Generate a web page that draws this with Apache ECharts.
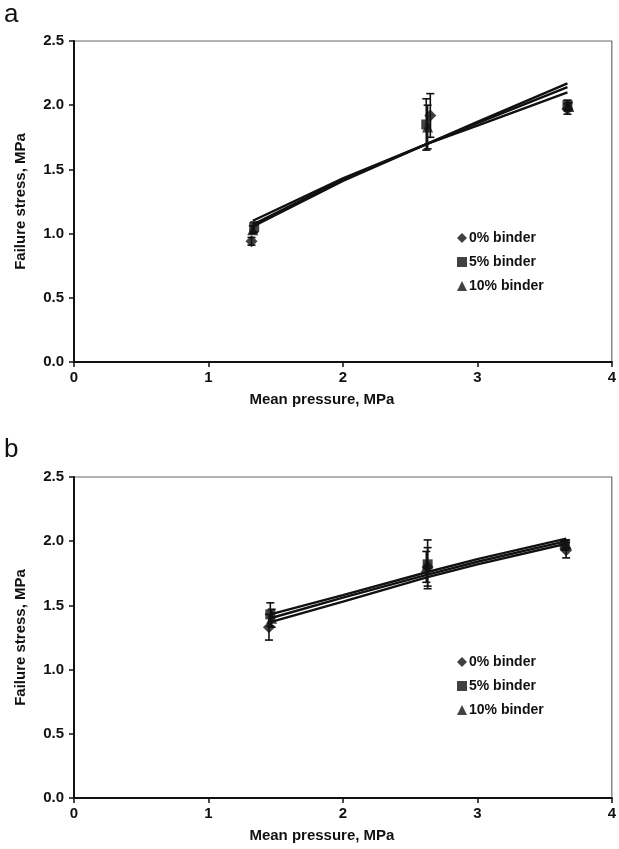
<!DOCTYPE html>
<html><head><meta charset="utf-8">
<script src="https://cdn.jsdelivr.net/npm/echarts@6/dist/echarts.min.js"></script>
<style>html,body{margin:0;padding:0;background:#fff}#c{width:619px;height:849px}</style>
</head><body><div id="c"></div>
<script>
// ---- data ----
const seriesNames = ['0% binder', '5% binder', '10% binder'];
const symbols = ['diamond', 'rect', 'triangle'];

// Panel a: [x, y, errorHalfWidth]
const a0 = [[1.32, 0.94, 0.03], [2.65, 1.92, 0.17], [3.67, 1.97, 0.04]];
const a5 = [[1.34, 1.05, 0.04], [2.62, 1.85, 0.20], [3.67, 2.00, 0.04]];
const a10 = [[1.33, 1.03, 0.03], [2.63, 1.83, 0.17], [3.68, 1.99, 0.03]];
// Panel a trend lines
const aLine0 = [[1.32, 1.05], [2.0, 1.41], [2.63, 1.70], [3.0, 1.87], [3.67, 2.17]];
const aLine5 = [[1.33, 1.10], [2.0, 1.43], [2.63, 1.70], [3.0, 1.84], [3.67, 2.10]];
const aLine10 = [[1.33, 1.07], [2.0, 1.42], [2.63, 1.70], [3.0, 1.86], [3.67, 2.14]];

// Panel b
const b0 = [[1.45, 1.33, 0.10], [2.63, 1.80, 0.15], [3.66, 1.93, 0.06]];
const b5 = [[1.46, 1.43, 0.09], [2.63, 1.82, 0.19], [3.65, 1.97, 0.04]];
const b10 = [[1.47, 1.40, 0.07], [2.62, 1.80, 0.12], [3.66, 1.98, 0.03]];
const bLine0 = [[1.46, 1.37], [2.0, 1.53], [2.63, 1.72], [3.0, 1.82], [3.66, 1.98]];
const bLine5 = [[1.46, 1.43], [2.0, 1.58], [2.63, 1.76], [3.0, 1.86], [3.66, 2.02]];
const bLine10 = [[1.46, 1.40], [2.0, 1.56], [2.63, 1.74], [3.0, 1.84], [3.66, 2.00]];

const xMin = 0, xMax = 4, xStep = 1;
const yMin = 0, yMax = 2.5, yStep = 0.5;
const xTitle = 'Mean pressure, MPa';
const yTitle = 'Failure stress, MPa';
const panelLabels = ['a', 'b'];

// ---- chart ----
const FONT = '"Liberation Sans", Arial, sans-serif';
const chart = echarts.init(document.getElementById('c'), null, {renderer: 'canvas'});

function grid(top) {
  return {left: 74, top: top, width: 540, height: 321, show: true,
    borderColor: '#6a6a6a', borderWidth: 1.2, backgroundColor: 'transparent'};
}
function xAxis(i) {
  return {type: 'value', gridIndex: i, min: xMin, max: xMax, interval: xStep,
    axisLine: {lineStyle: {color: '#111', width: 2}},
    axisTick: {show: true, length: 5, lineStyle: {color: '#111', width: 1.5}},
    splitLine: {show: false},
    axisLabel: {color: '#111', fontFamily: FONT, fontWeight: 'bold', fontSize: 15, margin: 8},
    name: xTitle, nameLocation: 'middle', nameGap: 30,
    nameTextStyle: {color: '#111', fontFamily: FONT, fontWeight: 'bold', fontSize: 15, padding: [0, 42, 0, 0]}};
}
function yAxis(i) {
  return {type: 'value', gridIndex: i, min: yMin, max: yMax, interval: yStep,
    axisLine: {show: true, lineStyle: {color: '#111', width: 2}},
    axisTick: {show: true, length: 5, lineStyle: {color: '#111', width: 1.5}},
    splitLine: {show: false},
    axisLabel: {color: '#111', fontFamily: FONT, fontWeight: 'bold', fontSize: 15, margin: 10,
      formatter: v => v.toFixed(1)},
    name: yTitle, nameLocation: 'middle', nameGap: 46,
    nameTextStyle: {color: '#111', fontFamily: FONT, fontWeight: 'bold', fontSize: 15}};
}

function errSeries(data, i) {
  return {type: 'custom', xAxisIndex: i, yAxisIndex: i, data: data, z: 3, silent: true,
    renderItem: function (params, api) {
      const x = api.value(0), y = api.value(1), e = api.value(2);
      const top = api.coord([x, y + e]);
      const bot = api.coord([x, y - e]);
      const w = 4;
      const st = {stroke: '#111', lineWidth: 1.6};
      return {type: 'group', children: [
        {type: 'line', shape: {x1: top[0], y1: top[1], x2: bot[0], y2: bot[1]}, style: st},
        {type: 'line', shape: {x1: top[0] - w, y1: top[1], x2: top[0] + w, y2: top[1]}, style: st},
        {type: 'line', shape: {x1: bot[0] - w, y1: bot[1], x2: bot[0] + w, y2: bot[1]}, style: st}
      ]};
    }};
}
function lineSeries(data, i) {
  return {type: 'line', xAxisIndex: i, yAxisIndex: i, data: data, symbol: 'none', z: 2,
    lineStyle: {color: '#111', width: 2.4}, silent: true};
}
function scatterSeries(name, data, i, k) {
  const sizes = [12, 10, 11];
  return {type: 'scatter', name: name, xAxisIndex: i, yAxisIndex: i,
    data: data.map(d => [d[0], d[1]]), symbol: symbols[k], symbolSize: sizes[k], z: 4,
    itemStyle: {color: '#111'}};
}

const groups = [[a0, a5, a10], [b0, b5, b10]];
const lines = [[aLine0, aLine5, aLine10], [bLine0, bLine5, bLine10]];
const series = [];
for (let i = 0; i < 2; i++) {
  lines[i].forEach(l => series.push(lineSeries(l, i)));
  groups[i].forEach(g => series.push(errSeries(g, i)));
  groups[i].forEach((g, k) => series.push(scatterSeries(seriesNames[k], g, i, k)));
}

function legend(top) {
  return {left: 452, top: top, orient: 'vertical', itemWidth: 10, itemHeight: 10, itemGap: 10,
    selectedMode: false,
    data: seriesNames.map((n, k) => ({name: n, icon: symbols[k]})),
    textStyle: {color: '#111', fontFamily: FONT, fontWeight: 'bold', fontSize: 14, padding: [0, 0, 0, -3], lineHeight: 14}};
}

chart.setOption({
  animation: false,
  backgroundColor: '#fff',
  grid: [grid(41), grid(477)],
  xAxis: [xAxis(0), xAxis(1)],
  yAxis: [yAxis(0), yAxis(1)],
  legend: [legend(226), legend(650)],
  graphic: [
    {type: 'text', left: 4, top: 2, style: {text: panelLabels[0], font: '26px ' + FONT, fill: '#111'}},
    {type: 'text', left: 4, top: 437, style: {text: panelLabels[1], font: '26px ' + FONT, fill: '#111'}}
  ],
  series: series
});
</script></body></html>
